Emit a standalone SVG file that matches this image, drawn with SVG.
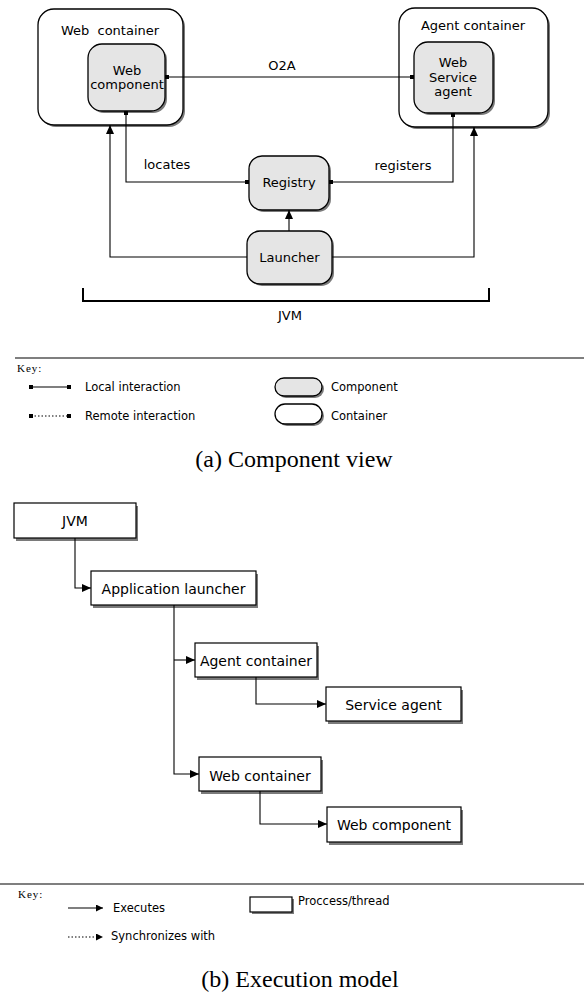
<svg xmlns="http://www.w3.org/2000/svg" width="584" height="992" viewBox="0 0 584 992">
<style>
.t{font-family:"DejaVu Sans",sans-serif;font-size:13px;fill:#000}
.tb{font-family:"DejaVu Sans",sans-serif;font-size:14px;fill:#000}
.tk{font-family:"DejaVu Sans",sans-serif;font-size:11.5px;fill:#000}
.key{font-family:"Liberation Serif",serif;font-size:11px;letter-spacing:1px;fill:#000}
.cap{font-family:"Liberation Serif",serif;font-size:24px;fill:#000}
.cont{fill:#fff;stroke:#000;stroke-width:1.3}
.comp{fill:#e5e5e5;stroke:#000;stroke-width:1.3}
.sh{fill:#7a7a7a}
.box{fill:#fff;stroke:#000;stroke-width:1.2}
.ln{fill:none;stroke:#000;stroke-width:1.1}
.dot{fill:none;stroke:#000;stroke-width:1.1;stroke-dasharray:1.5 2}
</style>
<defs>
<marker id="sq" markerWidth="4" markerHeight="4" refX="2" refY="2" markerUnits="userSpaceOnUse">
<rect x="0" y="0" width="4" height="4" fill="#000"/>
</marker>
<marker id="arr" markerWidth="9" markerHeight="8" refX="9" refY="4" orient="auto" markerUnits="userSpaceOnUse">
<path d="M0,0 L9,4 L0,8 Z" fill="#000"/>
</marker>
<marker id="arrs" markerWidth="7" markerHeight="7" refX="7" refY="3.5" orient="auto" markerUnits="userSpaceOnUse">
<path d="M0,0 L7,3.5 L0,7 Z" fill="#000"/>
</marker>
</defs>

<!-- Part (a) component view -->
<g id="web-container">
<rect class="sh" x="40" y="11" width="145" height="116" rx="16"/>
<rect class="cont" x="38" y="9" width="145" height="116" rx="16"/>
<text class="t" x="110" y="35" text-anchor="middle" xml:space="preserve">Web  container</text>
</g>
<g id="web-component">
<rect class="sh" x="90" y="46" width="77" height="67" rx="14"/>
<rect class="comp" x="88" y="44" width="77" height="67" rx="14"/>
<text class="t" x="127" y="75" text-anchor="middle">Web</text>
<text class="t" x="127" y="89" text-anchor="middle">component</text>
</g>
<g id="agent-container">
<rect class="sh" x="401" y="10" width="149" height="119" rx="16"/>
<rect class="cont" x="399" y="8" width="149" height="119" rx="16"/>
<text class="t" x="473" y="30" text-anchor="middle">Agent container</text>
</g>
<g id="web-service-agent">
<rect class="sh" x="416" y="44" width="79" height="71" rx="14"/>
<rect class="comp" x="414" y="42" width="79" height="71" rx="14"/>
<text class="t" x="453" y="67" text-anchor="middle">Web</text>
<text class="t" x="453" y="82" text-anchor="middle">Service</text>
<text class="t" x="453" y="96" text-anchor="middle">agent</text>
</g>
<g id="registry">
<rect class="sh" x="251" y="158" width="80" height="54" rx="13"/>
<rect class="comp" x="249" y="156" width="80" height="54" rx="13"/>
<text class="t" x="289" y="187" text-anchor="middle">Registry</text>
</g>
<g id="launcher">
<rect class="sh" x="249" y="233" width="85" height="53" rx="13"/>
<rect class="comp" x="247" y="231" width="85" height="53" rx="13"/>
<text class="t" x="289.5" y="262" text-anchor="middle">Launcher</text>
</g>
<g id="jvm-bracket">
<path d="M83,288 V301 H489 V288" fill="none" stroke="#000" stroke-width="2"/>
<text class="t" x="290" y="320" text-anchor="middle">JVM</text>
</g>

<g id="connectors-a">
<path class="ln" d="M167,77 H412" marker-start="url(#sq)" marker-end="url(#sq)"/>
<text class="t" x="282" y="70" text-anchor="middle">O2A</text>
<path class="ln" d="M126,113 V182 H247" marker-start="url(#sq)" marker-end="url(#sq)"/>
<text class="t" x="167" y="169" text-anchor="middle">locates</text>
<path class="ln" d="M453,115 V182 H331" marker-start="url(#sq)" marker-end="url(#sq)"/>
<text class="t" x="403" y="170" text-anchor="middle">registers</text>
<path class="ln" d="M289,231 V210" marker-end="url(#arr)"/>
<path class="ln" d="M247,257 H110 V125" marker-end="url(#arr)"/>
<path class="ln" d="M332,257 H474 V127" marker-end="url(#arr)"/>
</g>

<g id="key-a">
<line x1="15" y1="358" x2="584" y2="358" stroke="#000" stroke-width="1.2"/>
<text class="key" x="17" y="372">Key:</text>
<path class="ln" d="M31,387 H69" marker-start="url(#sq)" marker-end="url(#sq)"/>
<text class="tk" x="85" y="391">Local interaction</text>
<path class="dot" d="M31,416 H69" marker-start="url(#sq)" marker-end="url(#sq)"/>
<text class="tk" x="85" y="420">Remote interaction</text>
<rect class="sh" x="277" y="380" width="47" height="18" rx="9"/>
<rect class="comp" x="275" y="378" width="47" height="18" rx="9" stroke-width="1"/>
<text class="tk" x="331" y="391">Component</text>
<rect class="sh" x="277" y="406" width="47" height="20" rx="10"/>
<rect class="cont" x="275" y="404" width="47" height="20" rx="10" stroke-width="1"/>
<text class="tk" x="331" y="420">Container</text>
</g>
<text class="cap" x="294" y="467" text-anchor="middle">(a)  Component view</text>

<!-- Part (b) execution model -->
<g id="jvm">
<rect class="sh" x="16" y="506" width="122" height="35"/>
<rect class="box" x="14" y="503" width="122" height="35"/>
<text class="tb" x="75" y="526" text-anchor="middle">JVM</text>
</g>
<g id="application-launcher">
<rect class="sh" x="93" y="574" width="165" height="34"/>
<rect class="box" x="91" y="571" width="165" height="34"/>
<text class="tb" x="173.5" y="594" text-anchor="middle">Application launcher</text>
</g>
<g id="agent-container-b">
<rect class="sh" x="197" y="646" width="122" height="34"/>
<rect class="box" x="195" y="643" width="122" height="34"/>
<text class="tb" x="256" y="666" text-anchor="middle">Agent container</text>
</g>
<g id="service-agent">
<rect class="sh" x="328" y="690" width="135" height="34"/>
<rect class="box" x="326" y="687" width="135" height="34"/>
<text class="tb" x="393.5" y="710" text-anchor="middle">Service agent</text>
</g>
<g id="web-container-b">
<rect class="sh" x="201" y="760" width="122" height="34"/>
<rect class="box" x="199" y="757" width="122" height="34"/>
<text class="tb" x="260" y="781" text-anchor="middle">Web container</text>
</g>
<g id="web-component-b">
<rect class="sh" x="329" y="810" width="134" height="35"/>
<rect class="box" x="327" y="807" width="134" height="35"/>
<text class="tb" x="394" y="830" text-anchor="middle">Web component</text>
</g>

<g id="connectors-b">
<path class="ln" d="M75,538 V588 H91" marker-end="url(#arr)"/>
<path class="ln" d="M174,605 V774 H199" marker-end="url(#arr)"/>
<path class="ln" d="M174,660 H195" marker-end="url(#arr)"/>
<path class="ln" d="M256,677 V704 H326" marker-end="url(#arr)"/>
<path class="ln" d="M260,791 V824 H327" marker-end="url(#arr)"/>
</g>

<g id="key-b">
<line x1="0" y1="884" x2="584" y2="884" stroke="#000" stroke-width="1.2"/>
<text class="key" x="18" y="898">Key:</text>
<path class="ln" d="M68,908 H103" marker-end="url(#arrs)"/>
<text class="tk" x="113" y="912">Executes</text>
<rect class="sh" x="252" y="899" width="42" height="15"/>
<rect class="box" x="250" y="897" width="42" height="15" stroke-width="1"/>
<text class="tk" x="298" y="905">Proccess/thread</text>
<path class="dot" d="M68,937 H103" marker-end="url(#arrs)"/>
<text class="tk" x="111" y="940">Synchronizes with</text>
</g>
<text class="cap" x="300" y="987" text-anchor="middle">(b)  Execution model</text>
</svg>
